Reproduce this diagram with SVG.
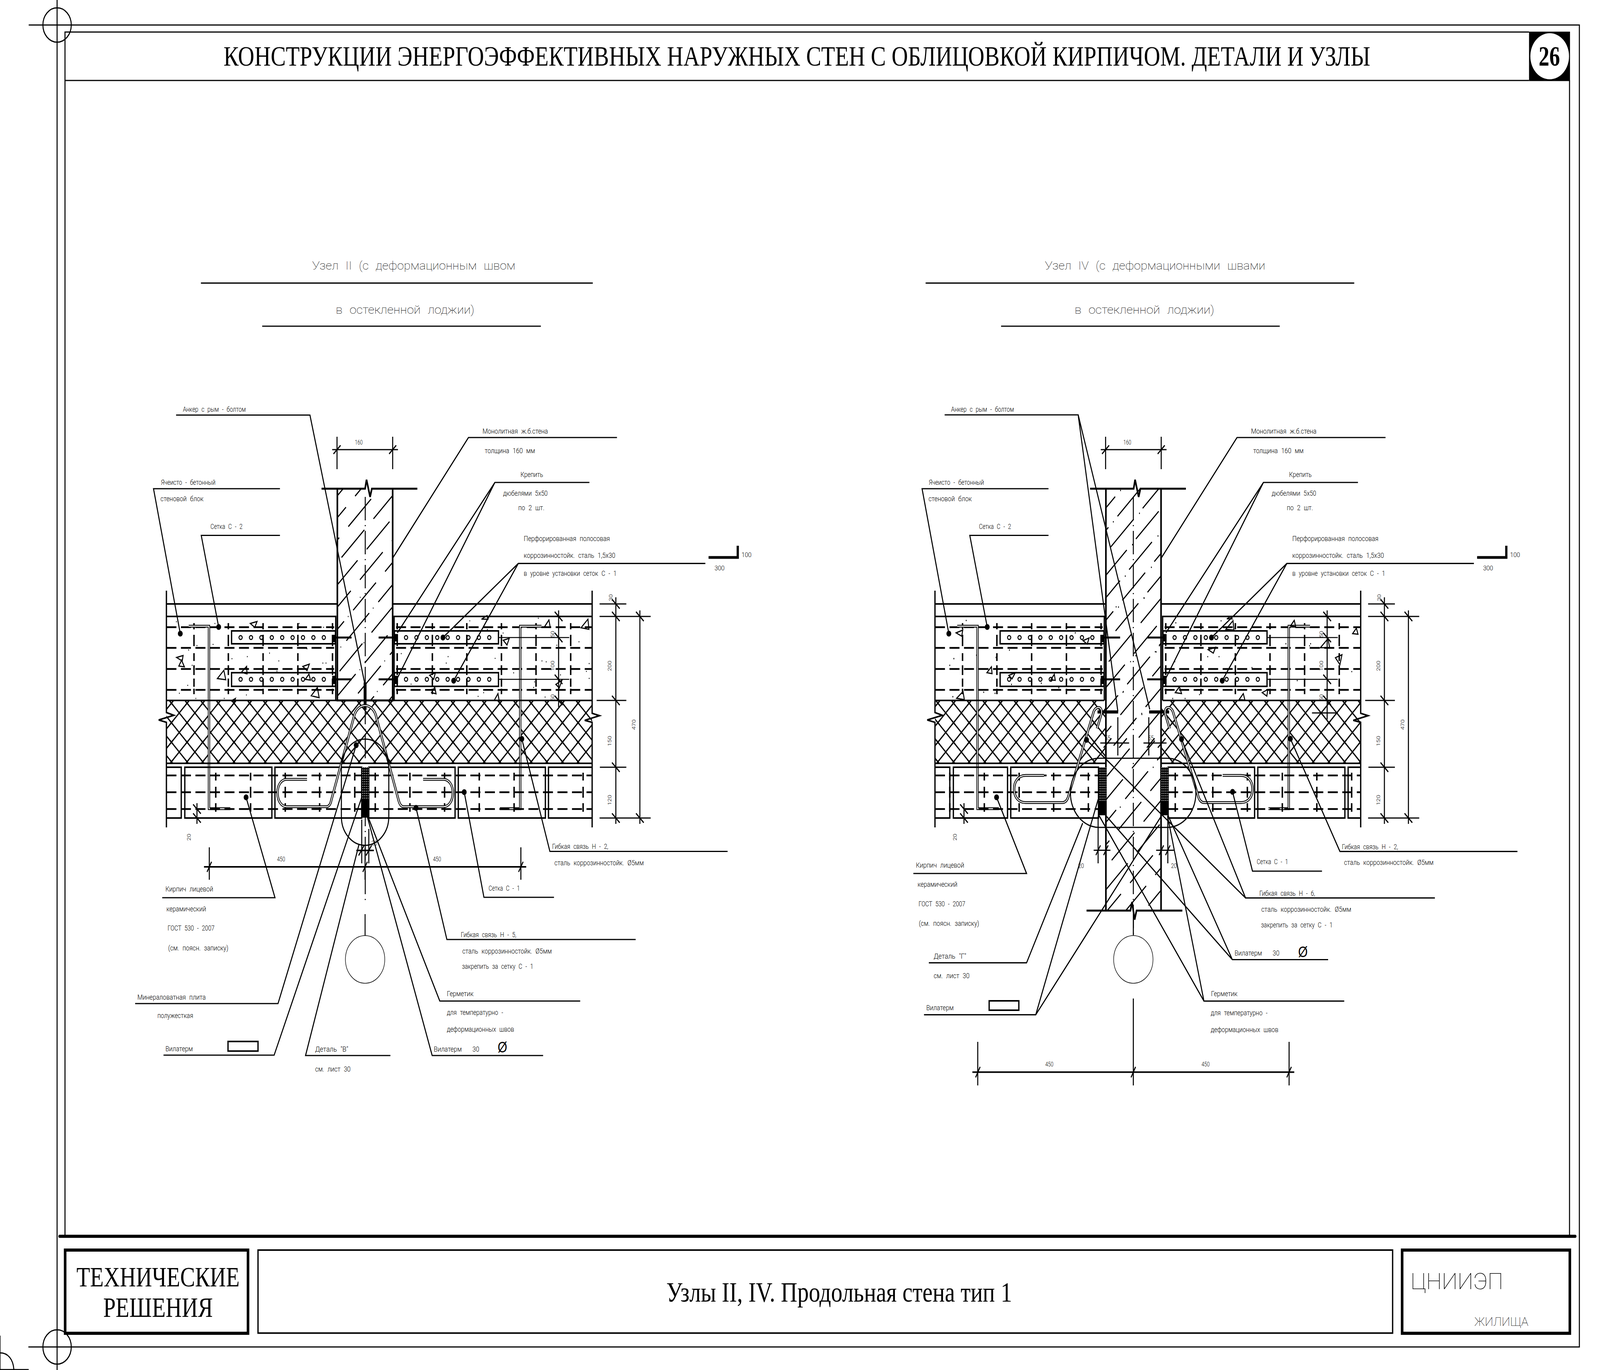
<svg xmlns="http://www.w3.org/2000/svg" xmlns:xlink="http://www.w3.org/1999/xlink" width="4961" height="3507" viewBox="0 0 4961 3507" preserveAspectRatio="none">
<style>
svg{width:100vw;height:100vh}
.l{fill:none;stroke:#000;stroke-width:3.2}
.th{fill:none;stroke:#000;stroke-width:2.5}
.hair{fill:none;stroke:#000;stroke-width:1.6}
.m{fill:none;stroke:#000;stroke-width:4}
.w{fill:none;stroke:#000;stroke-width:5}
.bk{fill:none;stroke:#000;stroke-width:8}
.rw{fill:none;stroke:#000;stroke-width:4.5;stroke-dasharray:31 14}
.kv{fill:none;stroke:#000;stroke-width:4.5;stroke-dasharray:16 14 29 18 20 11 25 9 21 5 14}
.bv{fill:none;stroke:#000;stroke-width:4.5;stroke-dasharray:20 16 28 14 22}
.cl{fill:none;stroke:#000;stroke-width:3;stroke-dasharray:60 12 3 12}
.hz{fill:none;stroke:#000;stroke-width:3.2;stroke-dasharray:100 40}
.wb{fill:none;stroke:#000;stroke-width:7}
.wh{fill:none;stroke:#fff;stroke-width:2.5}
.hole{fill:none;stroke:#000;stroke-width:3}
.tri{fill:none;stroke:#000;stroke-width:3}
.sp{fill:none;stroke:#000;stroke-width:6}
.t{font-family:Roboto,"Liberation Sans",sans-serif;font-weight:300;font-size:19px;fill:#000;word-spacing:6px}
.n{font-family:Roboto,"Liberation Sans",sans-serif;font-weight:300;font-size:16px;fill:#000;text-anchor:middle}
.h{font-family:Roboto,"Liberation Sans",sans-serif;font-weight:100;font-size:30px;fill:#000;word-spacing:10px}
.s{font-family:"Liberation Serif",serif;font-size:71px;fill:#000}
.ph{font-family:"Liberation Sans",sans-serif;font-size:38px;fill:#000}
</style>
<defs>
<marker id="dot" markerUnits="userSpaceOnUse" markerWidth="16" markerHeight="16" refX="8" refY="8" viewBox="0 0 16 16"><circle cx="8" cy="8" r="7.5" fill="#000"/></marker>
<pattern id="wool" patternUnits="userSpaceOnUse" width="48.5" height="50" patternTransform="translate(531.5 1800)"><path d="M0 0L48.5 50M48.5 0L0 50" stroke="#000" stroke-width="3.4" fill="none"/><path d="M-5 -5L5 5M43.5 45L53.5 55M53.5 -5L43.5 5M5 45L-5 55" stroke="#000" stroke-width="3.4" fill="none"/></pattern>
<pattern id="seal" patternUnits="userSpaceOnUse" width="6" height="6"><rect width="6" height="6" fill="#000"/><circle cx="3" cy="3" r="1.3" fill="#fff"/></pattern>
<clipPath id="c1"><rect x="1046" y="1251" width="171.5" height="542"/></clipPath>
<clipPath id="c2"><rect x="3429" y="1251" width="171" height="1080"/></clipPath>
<g id="holes">
<circle cx="0" r="5" class="hole"/><circle cx="32.25" r="5" class="hole"/><circle cx="64.5" r="5" class="hole"/><circle cx="96.75" r="5" class="hole"/><circle cx="129" r="5" class="hole"/><circle cx="161.25" r="5" class="hole"/><circle cx="193.5" r="5" class="hole"/><circle cx="225.75" r="5" class="hole"/><circle cx="258" r="5" class="hole"/>
</g>
<g id="base">
<path class="m" d="M516 1512V1824L539 1831L492 1843L516 1849V2118M1836 1512V1826L1859 1832L1813 1844L1836 1849V2118"/>
<path class="m" d="M516 1546H1046M1217.5 1546H1836M516 1578H1041V1793M1222 1793V1578H1836"/>
<path class="rw" d="M516 1605.4H1036M516 1658.5H1036M516 1712.5H1036M516 1766H1036M1228 1605.4H1836M1228 1658.5H1836M1228 1712.5H1836M1228 1766H1836"/>
<path class="kv" d="M601.5 1595V1780M708 1595V1780M815.7 1595V1780M923.6 1595V1780M1031 1595V1780M1231.6 1595V1780M1340.6 1595V1780M1447.4 1595V1780M1554.8 1595V1780M1662 1595V1780M1769.5 1595V1780"/>
<rect class="m" x="718" y="1615" width="322" height="33"/><rect class="m" x="718" y="1722" width="322" height="35"/>
<rect class="m" x="1223" y="1615" width="322.6" height="33"/><rect class="m" x="1223" y="1722" width="322.6" height="35"/>
<use xlink:href="#holes" href="#holes" x="746" y="1632"/><use xlink:href="#holes" href="#holes" x="746" y="1739"/>
<use xlink:href="#holes" href="#holes" x="1259" y="1632"/><use xlink:href="#holes" href="#holes" x="1259" y="1739"/>
<path d="M1030 1625h11v19h-11zM1030 1730h11v21h-11zM1223 1623h11v19h-11zM1223 1730h11v21h-11z" fill="#000"/>
<path class="w" d="M1041 1632H1090M1174 1632H1223M1041 1739H1090M1174 1739H1223"/>
<path class="wb" d="M585 1603H648V2070H714M1679 1603H1613V2070H1550"/>
<path class="wh" d="M585 1603H648V2070H714M1679 1603H1613V2070H1550"/>
<path class="l" d="M1045 1118V1201M1217.5 1118V1201M1030 1151H1234M1034 1162L1056 1140M1206.5 1162L1228.5 1140"/>
<path class="w" d="M997 1251H1132L1136.5 1228L1147.5 1272L1153 1251H1294"/>
<path class="l" d="M1909.5 1529V2109M1984 1562.5V2109M1732 1562.5V1810M1859 1546H1942M1859 1578H2017.5M1850 1793H1942M1860 1964H1942M1859 2094H2017.5"/>
<path class="th" d="M1547 1632H1765M1547 1739H1765"/>
<path class="l" d="M1897.5 1534l24 24M1897.5 1566l24 24M1897.5 1781l24 24M1897.5 1952l24 24M1897.5 2082l24 24M1972 1566l24 24M1972 2082l24 24M1720 1566l24 24M1720 1620l24 24M1720 1727l24 24M1720 1781l24 24"/>
<path d="M2197 1427H2291M2287.5 1397V1430" fill="none" stroke="#000" stroke-width="7"/>
</g>
</defs>
<rect width="4961" height="3507" fill="#fff"/>

<g id="frame">
<path class="l" d="M177 0V3507M89 64H4897V3448H88"/>
<circle class="l" cx="177" cy="64" r="44"/><circle class="l" cx="177" cy="3448" r="44"/>
<path class="l" d="M201.5 3165V82H4741M201.5 206H4741M4866.5 206V3165"/>
<rect x="4741" y="81" width="127" height="126.5" fill="#000"/>
<ellipse cx="4805" cy="144" rx="60" ry="59" fill="#fff"/>
<text x="4771" y="168" font-family="Liberation Serif, serif" font-weight="700" font-size="72" textLength="66" lengthAdjust="spacingAndGlyphs">26</text>
<text class="s" x="693" y="168" textLength="3556" lengthAdjust="spacingAndGlyphs">КОНСТРУКЦИИ ЭНЕРГОЭФФЕКТИВНЫХ НАРУЖНЫХ СТЕН С ОБЛИЦОВКОЙ КИРПИЧОМ. ДЕТАЛИ И УЗЛЫ</text>
<path class="bk" d="M185 3164.7H4884" stroke-linecap="round"/>
<rect class="bk" x="202" y="3200" width="567" height="213"/>
<rect class="m" x="800" y="3200" width="3518" height="212.5"/>
<rect class="bk" x="4347.5" y="3200" width="520" height="213"/>
<text class="s" x="237" y="3293" textLength="506" lengthAdjust="spacingAndGlyphs">ТЕХНИЧЕСКИЕ</text>
<text class="s" x="320" y="3371" textLength="340" lengthAdjust="spacingAndGlyphs">РЕШЕНИЯ</text>
<text class="s" x="2066" y="3332" textLength="1072" lengthAdjust="spacingAndGlyphs">Узлы II, IV. Продольная стена тип 1</text>
<text x="4374" y="3300" font-family="Roboto, Liberation Sans, sans-serif" font-weight="100" font-size="57" textLength="287" lengthAdjust="spacingAndGlyphs">ЦНИИЭП</text>
<text x="4572" y="3394" font-family="Roboto, Liberation Sans, sans-serif" font-weight="100" font-size="31" textLength="167" lengthAdjust="spacingAndGlyphs">ЖИЛИЩА</text>
<path class="l" d="M0 3419V3506H89M0 3463C25 3463 41 3480 43 3506"/>
</g>

<g id="titles">
<path class="l" d="M623 724.6H1838M813 835H1677M2870 724.6H4199M3104 835H3968"/>
<text class="h" x="968" y="690" textLength="630" lengthAdjust="spacingAndGlyphs">Узел II (с деформационным швом</text>
<text class="h" x="1041" y="803" textLength="430" lengthAdjust="spacingAndGlyphs">в остекленной лоджии)</text>
<text class="h" x="3240" y="690" textLength="683" lengthAdjust="spacingAndGlyphs">Узел IV (с деформационными швами</text>
<text class="h" x="3332" y="803" textLength="433" lengthAdjust="spacingAndGlyphs">в остекленной лоджии)</text>
</g>

<g id="detail-II">
<rect x="516" y="1793" width="1320" height="161" fill="url(#wool)"/>
<use xlink:href="#base" href="#base"/>
<path class="m" d="M516 1793H1836M516 1954H1836"/>
<path class="m" d="M516 1964H562V2094H516M1836 1964H1700.6V2094H1836"/>
<rect class="m" x="573" y="1964" width="270" height="130"/><rect class="m" x="852.5" y="1964" width="269" height="130"/>
<rect class="m" x="1143.5" y="1964" width="267.5" height="130"/><rect class="m" x="1421" y="1964" width="270" height="130"/>
<path class="rw" d="M516 1985H1122M516 2028H1122M516 2071H1122M1143.5 1985H1836M1143.5 2028H1836M1143.5 2071H1836"/>
<path class="bv" d="M669 1978V2078M777 1978V2078M884.5 1978V2078M991 1978V2078M1100 1978V2078M1163.5 1978V2078M1271 1978V2078M1378.5 1978V2078M1486 1978V2078M1594 1978V2078M1808 1978V2078"/>
<path class="w" d="M1046 1251V1793H1217.5V1251"/>
<g clip-path="url(#c1)"><path class="hz" d="M1023 1292l460 -460M1002 1369l460 -460M981 1447l460 -460M960 1526l460 -460M939 1604l460 -460M918 1682l460 -460M897 1760l460 -460M876 1838l460 -460M855 1916l460 -460M834 1994l460 -460M813 2072l460 -460M792 2150l460 -460M771 2228l460 -460"/></g>
<path class="cl" d="M1132.5 1272V2305M1132 2340V2395"/>
<path d="M1132 1747V1817" fill="none" stroke="#000" stroke-width="9"/>
<rect x="1122" y="1964" width="21.5" height="129" fill="#000"/><rect x="1122" y="1964" width="21.5" height="82" fill="url(#seal)"/>
<path class="wb" d="M952 1995H889C872 1995 860.5 2010 860.5 2029C860.5 2050 872 2065 889 2065H1012C1020 2065 1025 2058 1027 2049L1099 1830C1105 1815 1118 1806 1132 1806C1146 1806 1159 1815 1165 1830L1236 2049C1239 2058 1244 2065 1251 2065H1375C1392 2065 1404 2050 1404 2029C1404 2010 1392 1995 1375 1995H1312"/>
<path class="wh" d="M952 1995H889C872 1995 860.5 2010 860.5 2029C860.5 2050 872 2065 889 2065H1012C1020 2065 1025 2058 1027 2049L1099 1830C1105 1815 1118 1806 1132 1806C1146 1806 1159 1815 1165 1830L1236 2049C1239 2058 1244 2065 1251 2065H1375C1392 2065 1404 2050 1404 2029C1404 2010 1392 1995 1375 1995H1312"/>
<rect class="l" x="1058.5" y="1892" width="147" height="272" rx="73.5" ry="73.5"/>
<circle class="hair" cx="1132" cy="2456" r="61"/>
<path class="l" d="M1121.6 2098V2210M1143.5 2122V2210M1132 2170V2252"/>
<path class="m" d="M1105 2177H1159M632.5 2219H1631.6"/>
<path class="l" d="M649 2169V2252M1615 2169V2252M642 2232L656 2206M1125 2232L1139 2206M1608 2232L1622 2206M1112 2190L1129 2164M1135 2190L1152 2164"/>
<path class="l" d="M610.7 2056V2109M598.7 2059l24 24M598.7 2082l24 24"/>
<rect class="m" x="707" y="2666" width="93" height="24.6"/>
<path class="tri" d="M776 1596L797 1591L790 1606ZM547.6 1683L567.7 1678L565 1692ZM554.5 1705L563 1690L571.7 1707ZM674 1737L694 1716L700 1740ZM748.5 1721L764.6 1706L766 1725ZM939 1706L959 1700L952 1716.5ZM946.6 1739L958 1725.5L962.6 1741ZM965 1781L984 1760L989.6 1786ZM717 1794L730 1788L725.5 1798ZM1493 1585L1510 1576L1513 1585ZM1688 1605L1702 1587L1706 1606ZM1801.6 1607L1823 1585L1826 1611ZM1560.5 1639L1579 1634L1572 1651ZM1332 1728.6L1350 1722L1344.7 1739ZM1723.5 1752L1742.5 1741L1734 1761ZM1338 1773L1348 1759L1352 1776ZM1533 1792L1544 1775.5L1548 1795Z"/>
<g transform="translate(450 1500) scale(.574 .4464)"><path class="sp" d="M167 205h4M375 215h4M233 367h4M278 342h4M365 335h4M467 417h4M550 405h4M670 385h4M720 430h4M958 442h4M975 442h4M252 455h4M228 570h4M183 615h4M272 645h4M425 645h4M545 625h4M725 595h4M710 488h4M872 360h4M830 215h4M962 237h4M1055 350h4M1095 175h4M1158 480h4M1230 127h4M1292 430h4M1180 325h4M1252 605h4M1160 65h4"/></g>
<g transform="translate(1200 1500) scale(.574 .4464)"><path class="sp" d="M75 388h4M328 405h4M318 442h4M582 415h4M815 185h4M625 270h4M1035 320h4M835 430h4M858 435h4M1090 445h4M1075 490h4M682 498h4M795 550h4M790 582h4M1090 530h4M852 637h4M490 633h4M520 612h4M128 563h4M445 200h4M540 250h4M915 340h4M935 510h4"/></g>
</g>

<g id="detail-IV">
<rect x="2899" y="1793" width="530" height="161" fill="url(#wool)"/>
<rect x="3600" y="1793" width="619" height="161" fill="url(#wool)"/>
<use xlink:href="#base" href="#base" transform="translate(2383 0)"/>
<path class="m" d="M2899 1793H3424M3605 1793H4219M2899 1954H3429M3600 1954H4219"/>
<path class="m" d="M2899 1964H2945V2094H2899M4219 1964H4180V2094H4219"/>
<rect class="m" x="2956" y="1964" width="168" height="130"/><rect class="m" x="3134" y="1964" width="272" height="130"/>
<rect class="m" x="3622" y="1964" width="268" height="130"/><rect class="m" x="3900" y="1964" width="270" height="130"/>
<path class="rw" d="M2899 1985H3406M2899 2028H3406M2899 2071H3406M3622 1985H4219M3622 2028H4219M3622 2071H4219"/>
<path class="bv" d="M2945 1978V2078M3052 1978V2078M3160 1978V2078M3267 1978V2078M3374.6 1978V2078M3644 1978V2078M3760.5 1978V2078M3867.6 1978V2078M3976 1978V2078M4083 1978V2078M4191 1978V2078"/>
<path class="w" d="M3429 1251V2331M3600 1251V2331M3369 2331H3505L3510 2309L3518 2354L3524 2331H3666"/>
<g clip-path="url(#c2)"><path class="hz" d="M3309 1362.5l760 -760M3288 1441l760 -760M3267 1519.5l760 -760M3246 1598l760 -760M3225 1676.5l760 -760M3204 1755l760 -760M3183 1833.5l760 -760M3162 1912l760 -760M3141 1990.5l760 -760M3120 2069l760 -760M3099 2147.5l760 -760M3078 2226l760 -760M3057 2304.5l760 -760M3036 2383l760 -760M3015 2461.5l760 -760M2994 2540l760 -760M2973 2618.5l760 -760M2952 2697l760 -760M2931 2775.5l760 -760M2910 2854l760 -760M2889 2932.5l760 -760M2868 3011l760 -760M2847 3089.5l760 -760"/></g>
<path class="cl" d="M3514 1272V2394"/>
<rect x="3406.5" y="1964" width="23" height="123" fill="#000"/><rect x="3406.5" y="1964" width="23" height="87" fill="url(#seal)"/>
<rect x="3600" y="1964" width="22" height="123" fill="#000"/><rect x="3600" y="1964" width="22" height="87" fill="url(#seal)"/>
<path class="bk" d="M3403 1822.5H3467M3563 1822.5H3625"/>
<path class="l" d="M3466 1836V1934M3562 1836V1934M3411.6 1902H3501M3545.5 1902H3617M3422 1914l24 -24M3556 1914l24 -24M3590 1914l24 -24M3470 1914l24 -24M4068 1825H4148M4115 1810V1842"/>
<path class="wb" d="M3791 1985H3848C3870 1985 3883.6 2000 3883.6 2020C3883.6 2040 3870 2054.6 3848 2054.6H3734C3725 2054.6 3718 2048 3714.5 2036L3638 1825C3635 1815 3628 1811 3622 1811C3615 1811 3611 1818 3612.5 1826L3626.5 1865"/>
<path class="wh" d="M3791 1985H3848C3870 1985 3883.6 2000 3883.6 2020C3883.6 2040 3870 2054.6 3848 2054.6H3734C3725 2054.6 3718 2048 3714.5 2036L3638 1825C3635 1815 3628 1811 3622 1811C3615 1811 3611 1818 3612.5 1826L3626.5 1865"/>
<path class="wb" d="M3237 1985H3180C3158 1985 3144.4 2000 3144.4 2020C3144.4 2040 3158 2054.6 3180 2054.6H3294C3303 2054.6 3310 2048 3313.5 2036L3390 1825C3393 1815 3400 1811 3406 1811C3413 1811 3417 1818 3415.5 1826L3401.5 1865"/>
<path class="wh" d="M3237 1985H3180C3158 1985 3144.4 2000 3144.4 2020C3144.4 2040 3158 2054.6 3180 2054.6H3294C3303 2054.6 3310 2048 3313.5 2036L3390 1825C3393 1815 3400 1811 3406 1811C3413 1811 3417 1818 3415.5 1826L3401.5 1865"/>
<rect class="l" x="3319" y="1941" width="389" height="177" rx="88" ry="88"/>
<circle class="hair" cx="3514" cy="2456" r="61"/>
<path class="l" d="M3404.8 2090V2210M3621 2090V2210M3391 2176.5H3443M3584.7 2176.5H3640M3398 2189l14 -25M3422 2189l14 -25M3594 2189l14 -25M3614 2189l14 -25"/>
<path class="m" d="M3015 2744.5H4013"/>
<path class="l" d="M3031.6 2667V2778.5M3997 2667V2778.5M3514 2556V2778.5M3514 2354V2394M3025 2758L3039 2731M3507 2758L3521 2731M3990 2758L4004 2731"/>
<path class="l" d="M2989 2056V2109M2977 2059l24 24M2977 2082l24 24"/>
<rect class="m" x="3067" y="2562" width="92" height="24"/>
<path class="tri" d="M2964.5 1620L2985 1613L2982 1628.6ZM3060 1722L3074 1707L3076 1724.5ZM2966 1787.6L2986 1770L2990 1791ZM3358 1640L3377 1633L3371 1648.7ZM3128 1729L3148 1722L3138 1737.7ZM3258 1740.5L3269 1726L3272 1741.6ZM3801 1611L3823 1589L3826 1613ZM3804 1584L3815 1579L3820 1584ZM3746 1663L3769 1657L3762 1672ZM3644 1773L3657 1758L3663.5 1775.5ZM3842 1791L3855 1775.5L3860 1792ZM3913.5 1773L3931 1765L3928 1782ZM4094 1658L4117.6 1635L4122.7 1658ZM4140.6 1683.7L4161 1676L4154.6 1701.5ZM4194 1622L4205.6 1608L4210.7 1623.5ZM4001.5 1602L4013 1588L4017.5 1604.6Z"/>
<g transform="translate(3300 1500) scale(.638 .51)"><path class="sp" d="M540 185h4M760 175h4M695 355h4M750 355h4M460 300h4M525 565h4M585 565h4M655 545h4M1130 475h4M1190 300h4M1195 290h4M1075 290h4M1395 430h4M910 410h4M535 380h4M345 350h4M440 330h4M285 530h4M375 645h4M430 910h4M270 1110h4M250 105h4M385 60h4M320 380h4"/></g>
<g transform="translate(2800 1000) scale(.638 .574)"><path class="sp" d="M305 1025h4M245 1195h4M225 1225h4M355 1180h4M450 1190h4M515 1157h4M240 1365h4M390 1345h4M445 1350h4M620 1378h4M670 1305h4M755 1325h4M525 1310h4M835 1080h4M1055 445h4M1147 547h4M1020 585h4M1237 648h4M1113 687h4M1078 827h4M1205 788h4M1170 925h4M1045 965h4M1228 1165h4M1067 1345h4M1158 1440h4"/></g>
</g>

<g id="connectors">
<path class="l" d="M546 1062.5H961L1131 1750"/>
<path class="l" d="M868 1251H476L559 1622" marker-end="url(#dot)"/>
<path class="l" d="M868 1370.5H624L678 1605" marker-end="url(#dot)"/>
<path class="l" d="M1913 1120H1452.5L1218 1428"/>
<path class="l" d="M1827.5 1235H1534.4L1232 1620M1534.4 1235L1232 1736"/>
<path class="l" d="M2187 1442.4H1607L1373.4 1632" marker-end="url(#dot)"/>
<path class="l" d="M1607 1442.4L1406.7 1742.4" marker-end="url(#dot)"/>
<path class="l" d="M2256 2179.5H1705L1618 1891.5" marker-end="url(#dot)"/>
<path class="l" d="M1717.7 2297H1500.5L1439.4 2027.7" marker-end="url(#dot)"/>
<path class="l" d="M1971 2405H1385.6L1290 2068" marker-end="url(#dot)"/>
<path class="l" d="M503 2298H852.6L763 2041" marker-end="url(#dot)"/>
<path class="l" d="M419 2569H862L1104.4 1907.6" marker-end="url(#dot)"/>
<path class="l" d="M507 2701H850L1122 2040"/>
<path class="l" d="M1210.5 2702H947.4L1113 2162"/>
<path class="l" d="M1684 2702H1340L1139 2091"/>
<path class="l" d="M1799 2562.5H1363.6L1143 2095"/>
<path class="l" d="M2929 1062H3343L3466 1821M3343 1062L3565 1816"/>
<path class="l" d="M3251 1251H2859L2942 1622" marker-end="url(#dot)"/>
<path class="l" d="M3251 1370.5H3007L3061 1605" marker-end="url(#dot)"/>
<path class="l" d="M4296 1120H3835.5L3601 1428"/>
<path class="l" d="M4210.5 1235H3917.4L3615 1620M3917.4 1235L3615 1736"/>
<path class="l" d="M4570 1442.4H3990L3756.4 1632" marker-end="url(#dot)"/>
<path class="l" d="M3990 1442.4L3789.7 1742.4" marker-end="url(#dot)"/>
<path class="l" d="M4705 2179.6H4154.6L4001 1891" marker-end="url(#dot)"/>
<path class="l" d="M4099 2230H3883.5L3821.7 2027" marker-end="url(#dot)"/>
<path class="l" d="M4449 2298.6H3862L3663.5 1892" marker-end="url(#dot)"/>
<path class="l" d="M3862 2298.6L3369 1894" marker-end="url(#dot)"/>
<path class="l" d="M2832 2236H3183L3090 2041" marker-end="url(#dot)"/>
<path class="l" d="M2880 2464.6H3183L3357 2107"/>
<path class="l" d="M2865 2597.6H3211.5L3405 2046M3211.5 2597.6L3600 2090"/>
<path class="l" d="M4118 2456.5H3821L3429 2088M3821 2456.5L3622 2088"/>
<path class="l" d="M4168 2562.7H3733L3620 2088M3733 2562.7L3408 2088"/>
</g>

<g id="labels-II">
<text class="t" x="567" y="1054.5" textLength="195" lengthAdjust="spacingAndGlyphs">Анкер с рым - болтом</text>
<text class="t" x="499" y="1241.5" textLength="169" lengthAdjust="spacingAndGlyphs">Ячеисто - бетонный</text>
<text class="t" x="497.6" y="1283" textLength="133.4" lengthAdjust="spacingAndGlyphs">стеновой блок</text>
<text class="t" x="652.6" y="1353.6" textLength="99.4" lengthAdjust="spacingAndGlyphs">Сетка С - 2</text>
<text class="t" x="1496" y="1110" textLength="203" lengthAdjust="spacingAndGlyphs">Монолитная ж.б.стена</text>
<text class="t" x="1503" y="1160" textLength="156" lengthAdjust="spacingAndGlyphs">толщина 160 мм</text>
<text class="t" x="1614" y="1221" textLength="70" lengthAdjust="spacingAndGlyphs">Крепить</text>
<text class="t" x="1560" y="1269" textLength="138" lengthAdjust="spacingAndGlyphs">дюбелями 5х50</text>
<text class="t" x="1607" y="1306" textLength="81" lengthAdjust="spacingAndGlyphs">по 2 шт.</text>
<text class="t" x="1624" y="1385" textLength="267" lengthAdjust="spacingAndGlyphs">Перфорированная полосовая</text>
<text class="t" x="1624" y="1428" textLength="284" lengthAdjust="spacingAndGlyphs">коррозинностойк. сталь 1,5х30</text>
<text class="t" x="1624" y="1474.5" textLength="288" lengthAdjust="spacingAndGlyphs">в уровне установки сеток С - 1</text>
<text class="t" x="1712" y="2172.8" textLength="174" lengthAdjust="spacingAndGlyphs">Гибкая связь Н - 2,</text>
<text class="t" x="1719" y="2215" textLength="277" lengthAdjust="spacingAndGlyphs">сталь коррозинностойк. Ø5мм</text>
<text class="t" x="1515" y="2280" textLength="97" lengthAdjust="spacingAndGlyphs">Сетка С - 1</text>
<text class="t" x="1429" y="2399.5" textLength="172" lengthAdjust="spacingAndGlyphs">Гибкая связь Н - 5,</text>
<text class="t" x="1433.5" y="2440.6" textLength="277.5" lengthAdjust="spacingAndGlyphs">сталь коррозинностойк. Ø5мм</text>
<text class="t" x="1432.5" y="2480" textLength="221" lengthAdjust="spacingAndGlyphs">закрепить за сетку С - 1</text>
<text class="t" x="513" y="2282" textLength="148" lengthAdjust="spacingAndGlyphs">Кирпич лицевой</text>
<text class="t" x="516" y="2332.6" textLength="123" lengthAdjust="spacingAndGlyphs">керамический</text>
<text class="t" x="519.6" y="2382" textLength="145.4" lengthAdjust="spacingAndGlyphs">ГОСТ 530 - 2007</text>
<text class="t" x="521.5" y="2432.6" textLength="186.5" lengthAdjust="spacingAndGlyphs">(см. поясн. записку)</text>
<text class="t" x="426" y="2559" textLength="212" lengthAdjust="spacingAndGlyphs">Минераловатная плита</text>
<text class="t" x="488" y="2606" textLength="111" lengthAdjust="spacingAndGlyphs">полужесткая</text>
<text class="t" x="513" y="2691.5" textLength="85" lengthAdjust="spacingAndGlyphs">Вилатерм</text>
<text class="t" x="977" y="2692" textLength="103" lengthAdjust="spacingAndGlyphs">Деталь "В"</text>
<text class="t" x="977" y="2743" textLength="110" lengthAdjust="spacingAndGlyphs">см. лист 30</text>
<text class="t" x="1345" y="2692" textLength="86.6" lengthAdjust="spacingAndGlyphs">Вилатерм</text>
<text class="t" x="1465" y="2692" textLength="21" lengthAdjust="spacingAndGlyphs">30</text>
<text class="ph" x="1543" y="2694">Ø</text>
<text class="t" x="1385.6" y="2550" textLength="82.4" lengthAdjust="spacingAndGlyphs">Герметик</text>
<text class="t" x="1385.6" y="2598" textLength="174.4" lengthAdjust="spacingAndGlyphs">для температурно -</text>
<text class="t" x="1385.6" y="2641" textLength="208.4" lengthAdjust="spacingAndGlyphs">деформационных швов</text>
<text class="n" x="1112.4" y="1138" textLength="24" lengthAdjust="spacingAndGlyphs">160</text>
<text class="n" x="2314.5" y="1426" textLength="31" lengthAdjust="spacingAndGlyphs">100</text>
<text class="n" x="2231" y="1460" textLength="31" lengthAdjust="spacingAndGlyphs">300</text>
<text class="n" x="871.5" y="2205.5" textLength="25" lengthAdjust="spacingAndGlyphs">450</text>
<text class="n" x="1355" y="2205.5" textLength="25" lengthAdjust="spacingAndGlyphs">450</text>
<text class="n" x="1160.7" y="2163.6">20</text>
<text class="n" transform="rotate(-90 1899 1530)" x="1899" y="1530">30</text>
<text class="n" transform="rotate(-90 1896 1704.5)" x="1896" y="1704.5">200</text>
<text class="n" transform="rotate(-90 1896 1897)" x="1896" y="1897">150</text>
<text class="n" transform="rotate(-90 1896 2048)" x="1896" y="2048">120</text>
<text class="n" transform="rotate(-90 1971 1855)" x="1971" y="1855">470</text>
<text class="n" transform="rotate(-90 1719 1623.7)" x="1719" y="1623.7">50</text>
<text class="n" transform="rotate(-90 1719 1704.5)" x="1719" y="1704.5">100</text>
<text class="n" transform="rotate(-90 1719 1786)" x="1719" y="1786">50</text>
<text class="n" transform="rotate(-90 591.5 2143)" x="591.5" y="2143">20</text>
</g>

<g id="labels-IV">
<text class="t" x="2949" y="1054.5" textLength="195" lengthAdjust="spacingAndGlyphs">Анкер с рым - болтом</text>
<text class="t" x="2880" y="1241.5" textLength="171" lengthAdjust="spacingAndGlyphs">Ячеисто - бетонный</text>
<text class="t" x="2879" y="1283" textLength="134" lengthAdjust="spacingAndGlyphs">стеновой блок</text>
<text class="t" x="3035.6" y="1353.6" textLength="99.4" lengthAdjust="spacingAndGlyphs">Сетка С - 2</text>
<text class="t" x="3879" y="1110" textLength="203" lengthAdjust="spacingAndGlyphs">Монолитная ж.б.стена</text>
<text class="t" x="3886" y="1160" textLength="156" lengthAdjust="spacingAndGlyphs">толщина 160 мм</text>
<text class="t" x="3997" y="1221" textLength="70" lengthAdjust="spacingAndGlyphs">Крепить</text>
<text class="t" x="3943" y="1269" textLength="138" lengthAdjust="spacingAndGlyphs">дюбелями 5х50</text>
<text class="t" x="3990" y="1306" textLength="81" lengthAdjust="spacingAndGlyphs">по 2 шт.</text>
<text class="t" x="4007" y="1385" textLength="267" lengthAdjust="spacingAndGlyphs">Перфорированная полосовая</text>
<text class="t" x="4007" y="1428" textLength="284" lengthAdjust="spacingAndGlyphs">коррозинностойк. сталь 1,5х30</text>
<text class="t" x="4007" y="1474.5" textLength="288" lengthAdjust="spacingAndGlyphs">в уровне установки сеток С - 1</text>
<text class="t" x="4160.8" y="2174" textLength="174" lengthAdjust="spacingAndGlyphs">Гибкая связь Н - 2,</text>
<text class="t" x="4167.5" y="2214" textLength="277.5" lengthAdjust="spacingAndGlyphs">сталь коррозинностойк. Ø5мм</text>
<text class="t" x="3896.6" y="2212" textLength="97.4" lengthAdjust="spacingAndGlyphs">Сетка С - 1</text>
<text class="t" x="3905" y="2293" textLength="172.5" lengthAdjust="spacingAndGlyphs">Гибкая связь Н - 6,</text>
<text class="t" x="3911" y="2334" textLength="278.5" lengthAdjust="spacingAndGlyphs">сталь коррозинностойк. Ø5мм</text>
<text class="t" x="3910" y="2373.7" textLength="222" lengthAdjust="spacingAndGlyphs">закрепить за сетку С - 1</text>
<text class="t" x="2840" y="2220.6" textLength="149.5" lengthAdjust="spacingAndGlyphs">Кирпич лицевой</text>
<text class="t" x="2845" y="2270" textLength="123.4" lengthAdjust="spacingAndGlyphs">керамический</text>
<text class="t" x="2848" y="2319.6" textLength="145" lengthAdjust="spacingAndGlyphs">ГОСТ 530 - 2007</text>
<text class="t" x="2849" y="2370" textLength="187" lengthAdjust="spacingAndGlyphs">(см. поясн. записку)</text>
<text class="t" x="2895" y="2454.5" textLength="101" lengthAdjust="spacingAndGlyphs">Деталь "Г"</text>
<text class="t" x="2895" y="2504" textLength="111" lengthAdjust="spacingAndGlyphs">см. лист 30</text>
<text class="t" x="2872" y="2586" textLength="85" lengthAdjust="spacingAndGlyphs">Вилатерм</text>
<text class="t" x="3827.8" y="2446" textLength="85.2" lengthAdjust="spacingAndGlyphs">Вилатерм</text>
<text class="t" x="3946" y="2446" textLength="21" lengthAdjust="spacingAndGlyphs">30</text>
<text class="ph" x="4025" y="2450">Ø</text>
<text class="t" x="3755" y="2550" textLength="82" lengthAdjust="spacingAndGlyphs">Герметик</text>
<text class="t" x="3754" y="2598.6" textLength="176" lengthAdjust="spacingAndGlyphs">для температурно -</text>
<text class="t" x="3754" y="2641.6" textLength="209.6" lengthAdjust="spacingAndGlyphs">деформационных швов</text>
<text class="n" x="3495.4" y="1138" textLength="24" lengthAdjust="spacingAndGlyphs">160</text>
<text class="n" x="4697.5" y="1426" textLength="31" lengthAdjust="spacingAndGlyphs">100</text>
<text class="n" x="4614" y="1460" textLength="31" lengthAdjust="spacingAndGlyphs">300</text>
<text class="n" x="3253.6" y="2730" textLength="25" lengthAdjust="spacingAndGlyphs">450</text>
<text class="n" x="3738" y="2730" textLength="25" lengthAdjust="spacingAndGlyphs">450</text>
<text class="n" x="3352" y="2222">20</text>
<text class="n" x="3640" y="2222">20</text>
<text class="n" x="3434" y="1895">55</text>
<text class="n" x="3568" y="1895">55</text>
<text class="n" transform="rotate(-90 4282 1530)" x="4282" y="1530">30</text>
<text class="n" transform="rotate(-90 4279 1704.5)" x="4279" y="1704.5">200</text>
<text class="n" transform="rotate(-90 4279 1897)" x="4279" y="1897">150</text>
<text class="n" transform="rotate(-90 4279 2048)" x="4279" y="2048">120</text>
<text class="n" transform="rotate(-90 4354 1855)" x="4354" y="1855">470</text>
<text class="n" transform="rotate(-90 4102 1623.7)" x="4102" y="1623.7">50</text>
<text class="n" transform="rotate(-90 4102 1704.5)" x="4102" y="1704.5">100</text>
<text class="n" transform="rotate(-90 4102 1786)" x="4102" y="1786">50</text>
<text class="n" transform="rotate(-90 2966 2143)" x="2966" y="2143">20</text>
</g>
</svg>
